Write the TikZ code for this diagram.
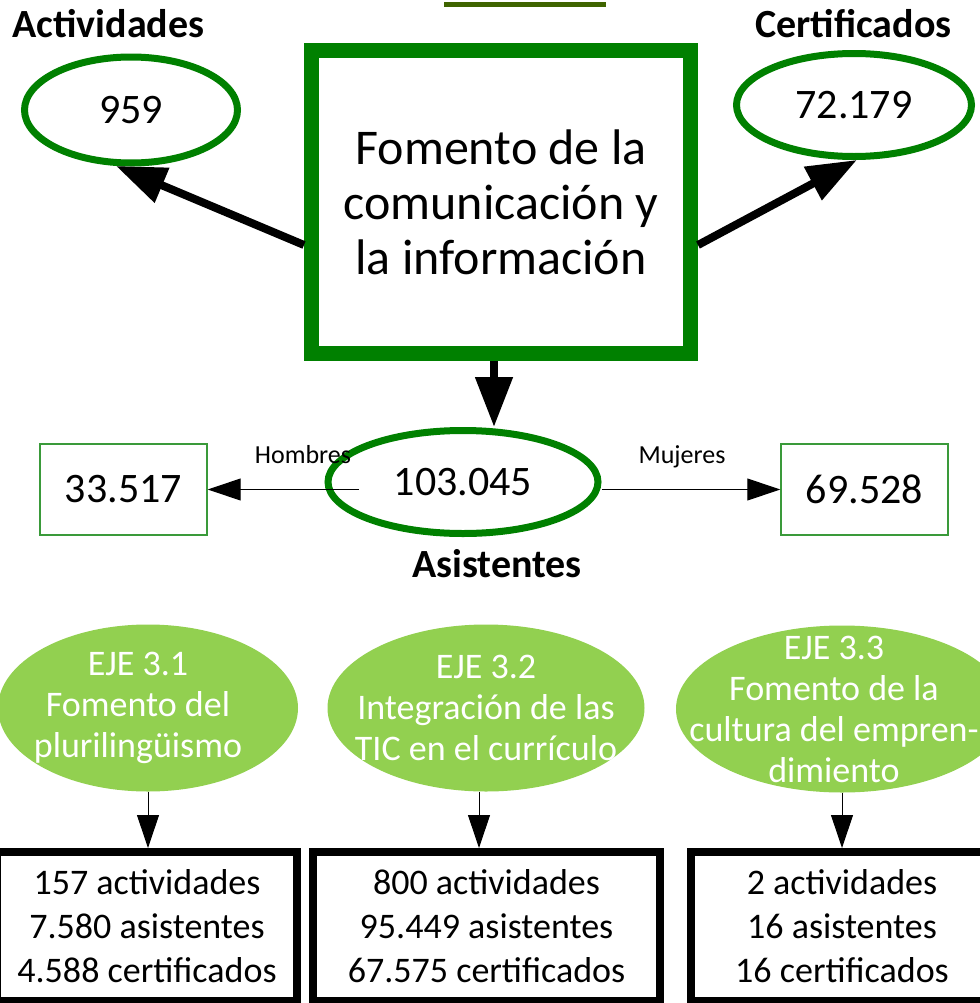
\documentclass[tikz,border=0pt]{standalone}
\usepackage{fontspec}
\setmainfont{Carlito}
\usetikzlibrary{shapes.geometric,arrows.meta}
\definecolor{boxgreen}{HTML}{008000}
\definecolor{ejegreen}{HTML}{92D050}
\definecolor{olivebar}{HTML}{3F6400}
\definecolor{thingreen}{HTML}{3A9A3A}

\begin{document}
\begin{tikzpicture}[x=0.75pt, y=-0.75pt,
    numell/.style={ellipse, draw=boxgreen, line width=5.25pt, inner sep=0pt, font=\fontsize{31.5pt}{36pt}\selectfont},
    headlabel/.style={anchor=base, font=\bfseries\fontsize{30pt}{34pt}\selectfont},
    sexlabel/.style={anchor=base, font=\fontsize{19.5pt}{22pt}\selectfont},
    sexbox/.style={rectangle, draw=thingreen, line width=1.1pt, minimum width=125.25pt, minimum height=68.25pt, font=\fontsize{31.5pt}{36pt}\selectfont},
    ejeell/.style={ellipse, fill=ejegreen, minimum height=125.25pt},
    ejetext/.style={text=white, align=center, font=\fontsize{27pt}{30.75pt}\selectfont},
    datbox/.style={rectangle, draw=black, line width=6pt, minimum height=111.75pt, align=center, font=\fontsize{27pt}{33pt}\selectfont},
    bigarrow/.style={-{Triangle[length=37.5pt,width=27pt]}, line width=6pt},
    thinarrow/.style={-{Triangle[length=24.75pt,width=16.5pt]}, line width=0.75pt}]
      \useasboundingbox (0,0) rectangle (980,1003);
      \draw [olivebar, line width=3.75pt] (444,4.5) to (606,4.5);
      \node (fomento) [draw=boxgreen, line width=11.25pt, minimum width=284.25pt, minimum height=227.25pt, align=center, font=\fontsize{37.5pt}{41.25pt}\selectfont] at (501,202) {Fomento de la\\comunicación y\\la información};
      \node (act) [numell, minimum width=159.75pt, minimum height=79.5pt] at (131,110) {959};
      \node (cert) [numell, minimum width=176.25pt, minimum height=77.25pt] at (854,105) {72.179};
      \node (asis) [numell, minimum width=202.5pt, minimum height=77.25pt] at (463,482) {103.045};
      \node (actlbl) [headlabel] at (108.5,37) {Actividades};
      \node (certlbl) [headlabel] at (853.5,37) {Certificados};
      \node (asislbl) [headlabel] at (497,577) {Asistentes};
      \node (hom) [sexbox] at (123.5,489.5) {33.517};
      \node (muj) [sexbox] at (864.5,489.5) {69.528};
      \node (homlbl) [sexlabel] at (303,463) {Hombres};
      \node (mujlbl) [sexlabel] at (682,463) {Mujeres};
      \node (eje1) [ejeell, minimum width=225pt, label={[ejetext, xshift=-7.5pt]center:{EJE 3.1\\Fomento del\\plurilingüismo}}] at (148,708) {};
      \node (eje2) [ejeell, minimum width=237.75pt, label={[ejetext]center:{EJE 3.2\\Integración de las\\TIC en el currículo}}] at (486,708) {};
      \node (eje3) [ejeell, minimum width=249pt, label={[ejetext, xshift=-6pt]center:{EJE 3.3\\Fomento de la\\cultura del empren-\\dimiento}}] at (842,709) {};
      \node (dat1) [datbox, minimum width=225pt] at (147,926.5) {157 actividades\\7.580 asistentes\\4.588 certificados};
      \node (dat2) [datbox, minimum width=260.25pt] at (486.5,926.5) {800 actividades\\95.449 asistentes\\67.575 certificados};
      \node (dat3) [datbox, minimum width=226.5pt] at (842,926.5) {2 actividades\\16 asistentes\\16 certificados};
      \draw [bigarrow] ([yshift=-32.25pt]fomento.west) to (act.255);
      \draw [bigarrow] ([yshift=-32.25pt]fomento.east) to (cert.273);
      \draw [bigarrow] ([xshift=-5.25pt]fomento.south) to ([xshift=-5.25pt]fomento.south |- asis.north);
      \draw [thinarrow] ([xshift=26pt]asis.west |- hom.east) to (hom.east);
      \draw [thinarrow] (asis.east |- muj.west) to (muj.west);
      \draw [thinarrow] (eje1.south) to (eje1.south |- dat1.north);
      \draw [thinarrow] ([xshift=-5.25pt]eje2.south) to ([xshift=-5.25pt]eje2.south |- dat2.north);
      \draw [thinarrow] (eje3.south) to (eje3.south |- dat3.north);
\end{tikzpicture}
\end{document}
